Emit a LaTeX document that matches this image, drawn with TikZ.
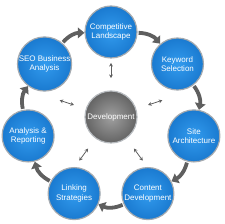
\documentclass[tikz,border=0pt]{standalone}
\usepackage{fontspec}
\setmainfont{Liberation Sans}
\usetikzlibrary{arrows.meta}
\definecolor{blueIn}{RGB}{50,155,238}
\definecolor{blueOut}{RGB}{26,122,208}
\definecolor{ringgray}{RGB}{165,170,175}
\definecolor{arrgray}{RGB}{95,95,95}
\definecolor{hubIn}{RGB}{160,160,160}
\definecolor{hubOut}{RGB}{100,100,100}
\begin{document}
\begin{tikzpicture}[x=1pt,y=1pt,
  stage/.style={circle, minimum size=52pt, inner sep=0pt, draw=ringgray, line width=1.2pt,
    inner color=blueIn, outer color=blueOut, text=white, align=center,
    font=\fontsize{8}{9.4}\selectfont},
  hub/.style={circle, minimum size=52pt, inner sep=0pt, draw=ringgray!80, line width=1.2pt,
    inner color=hubIn, outer color=hubOut, text=white, align=center,
    font=\fontsize{8}{9.4}\selectfont},
  flow/.style={draw=arrgray, line width=3.8pt, -{Triangle[width=10.5pt,length=6.5pt]},
    bend left=24, shorten <=1pt},
  link/.style={draw=arrgray, line width=0.8pt,
    {Stealth[length=3.5pt,width=3.8pt]}-{Stealth[length=3.5pt,width=3.8pt]}}]
\useasboundingbox (0,0) rectangle (225,224);
\coordinate (c) at (111,107);
\node[hub] (dev) at (c) {Development};
\node[stage] (s1) at ([shift={(90:85)}]c) {Competitive\\Landscape};
\node[stage] (s2) at ([shift={(38.57:85)}]c) {Keyword\\Selection};
\node[stage] (s3) at ([shift={(-12.86:85)}]c) {Site\\Architecture};
\node[stage] (s4) at ([shift={(-64.29:85)}]c) {Content\\Development};
\node[stage] (s5) at ([shift={(-115.71:85)}]c) {Linking\\Strategies};
\node[stage] (s6) at ([shift={(-167.14:85)}]c) {Analysis \&\\Reporting};
\node[stage] (s7) at ([shift={(141.43:85)}]c) {SEO Business\\Analysis};
\draw[flow] (s1) to (s2);
\draw[flow] (s2) to (s3);
\draw[flow] (s3) to (s4);
\draw[flow] (s4) to (s5);
\draw[flow] (s5) to (s6);
\draw[flow] (s6) to (s7);
\draw[flow] (s7) to (s1);
\foreach \a [count=\i] in {90,18,-54,-126,162} {
  \coordinate (in\i) at ([shift={(\a:39)}]c);
  \coordinate (out\i) at ([shift={(\a:54)}]c);
  \draw[link] (in\i) -- (out\i);
}
\end{tikzpicture}
\end{document}
